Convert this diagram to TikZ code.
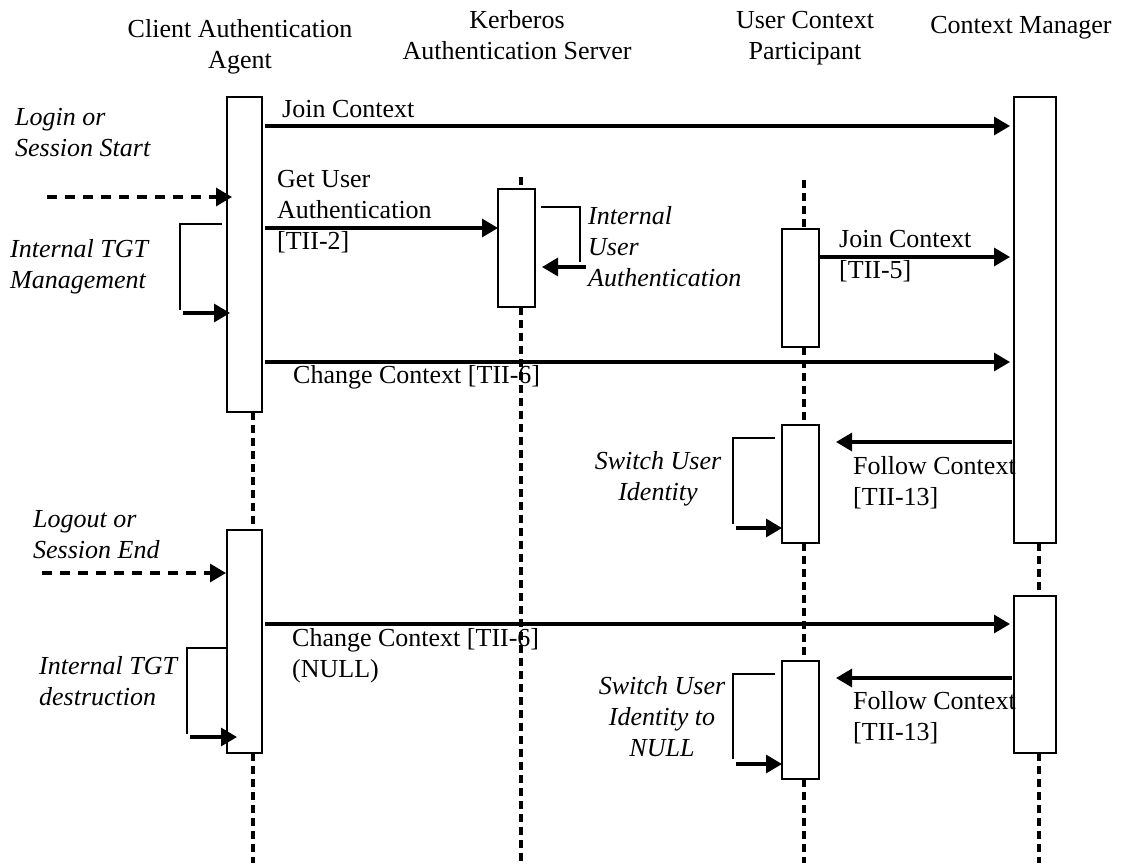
\documentclass[tikz,border=0pt]{standalone}
\usepackage{fontspec}
\setmainfont{Liberation Serif}
\usetikzlibrary{arrows.meta}
\begin{document}
\begin{tikzpicture}[x=1pt,y=-1pt,
  act/.style={draw, line width=1.6pt, fill=white, inner sep=0pt, outer sep=0pt, anchor=north west},
  life/.style={line width=3.2pt, dash pattern=on 8pt off 5pt},
  msg/.style={line width=3.2pt, -{Triangle[length=16pt,width=18pt]}},
  trig/.style={line width=3.2pt, dash pattern=on 10pt off 8pt, -{Triangle[length=16pt,width=18pt]}},
  brk/.style={line width=1.3pt},
  lbl/.style={inner sep=0pt, font=\fontsize{26}{31}\selectfont, align=left, anchor=base west},
  note/.style={inner sep=0pt, font=\fontsize{26}{31}\selectfont\itshape, align=left, anchor=base west},
  notec/.style={inner sep=0pt, font=\fontsize{26}{31}\selectfont\itshape, align=center, anchor=base},
  ttl/.style={inner sep=0pt, font=\fontsize{26}{31}\selectfont, align=center, anchor=base}]
\useasboundingbox (0,0) rectangle (1126,863);
\coordinate (bot) at (0,863);
\coordinate (aL) at (253,0);
\coordinate (kL) at (521,0);
\coordinate (uL) at (804,0);
\coordinate (mL) at (1039,0);

% titles (anchor = baseline of last line)
\node[ttl] (tA) at (240,68) {Client Authentication\\Agent};
\node[ttl] (tK) at (517,59) {Kerberos\\Authentication Server};
\node[ttl] (tU) at (805,59) {User Context\\Participant};
\node[ttl] (tM) at (1021,33) {Context Manager};

% lifeline tops
\coordinate (kTop) at (521,177);
\coordinate (uTop) at (804,180);

% activation boxes
\node[act, minimum width=35pt, minimum height=315pt] (a1) at (227,97) {};
\node[act, minimum width=35pt, minimum height=223pt] (a2) at (227,530) {};
\node[act, minimum width=37pt, minimum height=118pt] (k1) at (498,189) {};
\node[act, minimum width=37pt, minimum height=118pt] (u1) at (782,229) {};
\node[act, minimum width=37pt, minimum height=118pt] (u2) at (782,425) {};
\node[act, minimum width=37pt, minimum height=118pt] (u3) at (782,661) {};
\node[act, minimum width=42pt, minimum height=446pt] (m1) at (1014,97) {};
\node[act, minimum width=42pt, minimum height=157pt] (m2) at (1014,596) {};

\draw[life] (a1.south -| aL) -- (a2.north -| aL);
\draw[life] (a2.south -| aL) -- (bot -| aL);
\draw[life] (kTop) -- (k1.north -| kL);
\draw[life] (k1.south -| kL) -- (bot -| kL);
\draw[life] (uTop) -- (u1.north -| uL);
\draw[life] (u1.south -| uL) -- (u2.north -| uL);
\draw[life] (u2.south -| uL) -- (u3.north -| uL);
\draw[life] (u3.south -| uL) -- (bot -| uL);
\draw[life] (m1.south -| mL) -- (m2.north -| mL);
\draw[life] (m2.south -| mL) -- (bot -| mL);

% messages
\draw[msg, shorten <=3pt, shorten >=4pt] (a1.east |- 0,126) -- (m1.west |- 0,126);
\draw[msg, shorten <=3pt] (a1.east |- 0,228) -- (k1.west |- 0,228);
\draw[msg, shorten >=4pt] (u1.east |- 0,257) -- (m1.west |- 0,257);
\draw[msg, shorten <=3pt, shorten >=4pt] (a1.east |- 0,362) -- (m1.west |- 0,362);
\draw[msg, shorten <=2pt, shorten >=17pt] (m1.west |- 0,442) -- (u2.east |- 0,442);
\draw[msg, shorten <=3pt, shorten >=4pt] (a2.east |- 0,624) -- (m2.west |- 0,624);
\draw[msg, shorten <=2pt, shorten >=17pt] (m2.west |- 0,678) -- (u3.east |- 0,678);

% triggers
\coordinate (lgS) at (47,197);
\draw[trig, shorten >=-5pt] (lgS) -- (a1.west |- lgS);
\coordinate (loS) at (42,573);
\draw[trig, shorten >=1pt] (loS) -- (a2.west |- loS);

% self calls
\coordinate (t1a) at (222,224); \coordinate (t1b) at (180,224); \coordinate (t1c) at (180,310);
\draw[brk] (t1a) -- (t1b) -- (t1c);
\coordinate (t1d) at (183,313);
\draw[msg, shorten >=-3pt] (t1d) -- (a1.west |- t1d);

\coordinate (k1a) at (541,207); \coordinate (k1b) at (580,207); \coordinate (k1c) at (580,262);
\draw[brk] (k1a) -- (k1b) -- (k1c);
\coordinate (k1d) at (586,267);
\draw[msg, shorten >=7pt] (k1d) -- (k1.east |- k1d);

\coordinate (s1a) at (775,438); \coordinate (s1b) at (733,438); \coordinate (s1c) at (733,524);
\draw[brk] (s1a) -- (s1b) -- (s1c);
\coordinate (s1d) at (736,528);
\draw[msg] (s1d) -- (u2.west |- s1d);

\coordinate (s2a) at (775,674); \coordinate (s2b) at (733,674); \coordinate (s2c) at (733,759);
\draw[brk] (s2a) -- (s2b) -- (s2c);
\coordinate (s2d) at (736,764);
\draw[msg] (s2d) -- (u3.west |- s2d);

\coordinate (t2a) at (228,648); \coordinate (t2b) at (187,648); \coordinate (t2c) at (187,734);
\draw[brk] (t2a) -- (t2b) -- (t2c);
\coordinate (t2d) at (190,737);
\draw[msg, shorten >=-10pt] (t2d) -- (a2.west |- t2d);

% message labels (anchor = baseline of last line)
\node[lbl] (l1) at (282,117) {Join Context};
\node[lbl] (l2) at (277,249) {Get User\\Authentication\\{[TII-2]}};
\node[lbl] (l3) at (839,278) {Join Context\\{[TII-5]}};
\node[lbl] (l4) at (293,383) {Change Context [TII-6]};
\node[lbl] (l5) at (853,505) {Follow Context\\{[TII-13]}};
\node[lbl] (l6) at (292,677) {Change Context [TII-6]\\(NULL)};
\node[lbl] (l7) at (853,740) {Follow Context\\{[TII-13]}};

% notes
\node[note] (n1) at (15,156) {Login or\\Session Start};
\node[note] (n2) at (10,288) {Internal TGT\\Management};
\node[note] (n3) at (588,286) {Internal\\User\\Authentication};
\node[notec] (n4) at (658,500) {Switch User\\Identity};
\node[note] (n5) at (33,558) {Logout or\\Session End};
\node[note] (n6) at (39,705) {Internal TGT\\destruction};
\node[notec] (n7) at (662,756) {Switch User\\Identity to\\NULL};
\end{tikzpicture}
\end{document}
